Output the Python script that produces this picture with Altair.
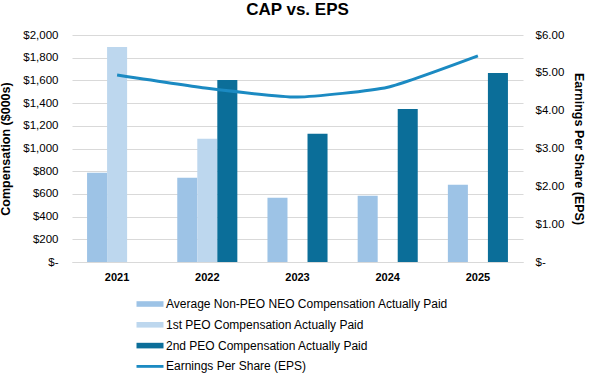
import altair as alt
import pandas as pd

years = ["2021", "2022", "2023", "2024", "2025"]
series = [
    "Average Non-PEO NEO Compensation Actually Paid",
    "1st PEO Compensation Actually Paid",
    "2nd PEO Compensation Actually Paid",
]
eps_name = "Earnings Per Share (EPS)"
avg_neo = [786, 742, 566, 583, 680]
peo1 = [1894, 1085, None, None, None]
peo2 = [None, 1604, 1129, 1349, 1666]
eps = [4.94, 4.59, 4.36, 4.62, 5.45]
colors = ["#9DC3E6", "#BDD7EE", "#0B6E99", "#1B8AC2"]

rows = []
for i, y in enumerate(years):
    for s, vals in zip(series, [avg_neo, peo1, peo2]):
        rows.append({"year": y, "series": s, "value": vals[i]})
bars_df = pd.DataFrame(rows)
eps_df = pd.DataFrame({"year": years, "eps": eps, "series": eps_name})

font = "Liberation Sans"

thick = "M-1.35,-0.28H1.35V0.28H-1.35Z"
thin = "M-1.35,-0.14H1.35V0.14H-1.35Z"

x_enc = alt.X(
    "year:N",
    sort=years,
    scale=alt.Scale(paddingInner=0.334, paddingOuter=0.167),
    axis=alt.Axis(
        title=None, labelFontWeight="bold", labelFontSize=11, labelColor="#000000",
        ticks=False, domain=True, domainColor="#D9D9D9", labelAngle=0, labelPadding=9,
        grid=False,
    ),
)

bars = alt.Chart(bars_df).transform_filter("datum.value != null").mark_bar().encode(
    x=x_enc,
    xOffset=alt.XOffset("series:N", sort=series, scale=alt.Scale(domain=series, paddingInner=0, paddingOuter=0)),
    y=alt.Y(
        "value:Q",
        scale=alt.Scale(domain=[0, 2000]),
        axis=alt.Axis(
            title="Compensation ($000s)", titleFontSize=12.5, titleFontWeight="bold",
            titleColor="#000000", titlePadding=10,
            values=list(range(0, 2001, 200)),
            labelExpr="datum.value == 0 ? '$-' : '$' + format(datum.value, ',')",
            labelFontSize=11.5, labelColor="#000000", labelPadding=14,
            ticks=False, domain=False, gridColor="#D9D9D9",
        ),
    ),
    color=alt.Color(
        "series:N",
        scale=alt.Scale(domain=series + [eps_name], range=colors),
        legend=alt.Legend(
            title=None, orient="none", legendX=68, legendY=259, direction="vertical",
            symbolType=alt.ExprRef("datum.value == '" + eps_name + "' ? '" + thin + "' : '" + thick + "'"),
            symbolSize=400,
            symbolStrokeWidth=0,
            symbolFillColor=alt.ExprRef("scale('color', datum.value)"),
            symbolOpacity=1,
            labelFontSize=12, labelColor="#000000", labelFont=font, rowPadding=4.8,
            labelOffset=6, labelLimit=400,
        ),
    ),
)

line = alt.Chart(eps_df).mark_line(color=colors[3], strokeWidth=3, interpolate="cardinal", tension=0.5).encode(
    x=alt.X("year:N", sort=years),
    y=alt.Y(
        "eps:Q",
        scale=alt.Scale(domain=[0, 6]),
        axis=alt.Axis(
            title="Earnings Per Share (EPS)", titleFontSize=12.5, titleFontWeight="bold",
            titleColor="#000000", titleAngle=90, titlePadding=8,
            values=[0, 1, 2, 3, 4, 5, 6],
            labelExpr="datum.value == 0 ? '$-' : '$' + format(datum.value, '.2f')",
            labelFontSize=11.5, labelColor="#000000", labelPadding=12,
            ticks=False, domain=False, grid=False, orient="right",
        ),
    ),
)

chart = alt.layer(bars, line).resolve_scale(y="independent").properties(
    width=451, height=227,
    title=alt.TitleParams("CAP vs. EPS", fontSize=17, fontWeight="bold", font=font,
                          color="#000000", anchor="middle", offset=10),
    padding={"left": 72, "top": 35, "right": 70, "bottom": 115},
    autosize=alt.AutoSizeParams(type="none"),
).configure(font=font).configure_view(stroke=None)

chart.save("out.html", embed_options={"renderer": "svg", "actions": False})
